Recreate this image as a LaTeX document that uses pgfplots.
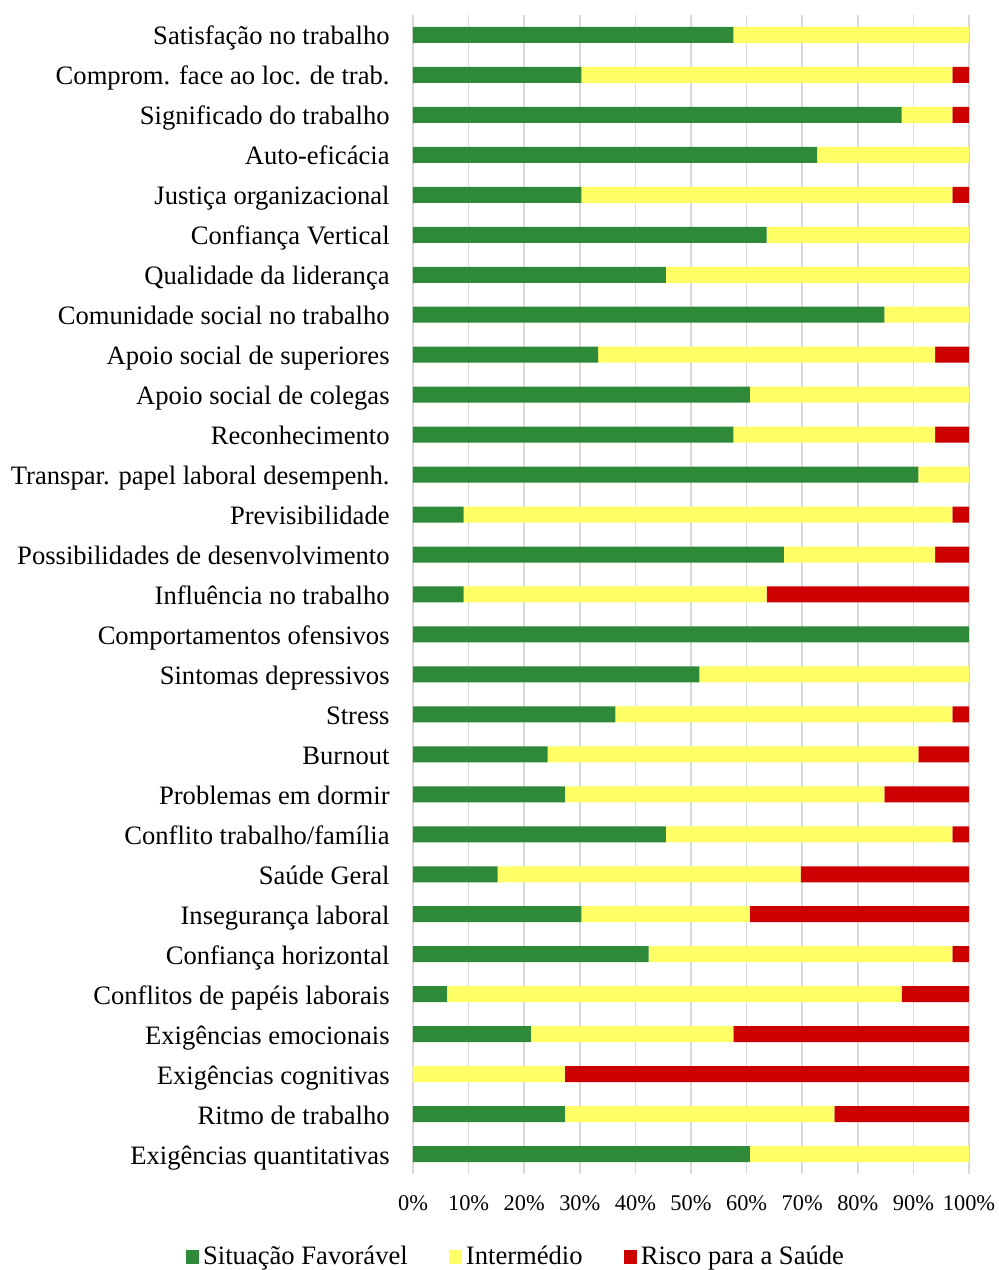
\documentclass[border=0pt]{standalone}
\usepackage{fontspec}
\setmainfont{Liberation Serif}
\usepackage{pgfplots}
\usepackage{pgfplotstable}
\pgfplotsset{compat=1.18}
\definecolor{cg}{RGB}{46,137,56}
\definecolor{cy}{RGB}{255,255,102}
\definecolor{cr}{RGB}{204,0,0}
\definecolor{cgrid}{RGB}{217,217,217}

\pgfplotstableread{
idx fav int ris
0 60.6 39.4 0
1 27.3 48.5 24.2
2 0 27.3 72.7
3 21.2 36.4 42.4
4 6.1 81.8 12.1
5 42.4 54.6 3.0
6 30.3 30.3 39.4
7 15.2 54.5 30.3
8 45.5 51.5 3.0
9 27.3 57.5 15.2
10 24.2 66.7 9.1
11 36.4 60.6 3.0
12 51.5 48.5 0
13 100 0 0
14 9.1 54.5 36.4
15 66.7 27.2 6.1
16 9.1 87.9 3.0
17 90.9 9.1 0
18 57.6 36.3 6.1
19 60.6 39.4 0
20 33.3 60.6 6.1
21 84.8 15.2 0
22 45.5 54.5 0
23 63.6 36.4 0
24 30.3 66.7 3.0
25 72.7 27.3 0
26 87.9 9.1 3.0
27 30.3 66.7 3.0
28 57.6 42.4 0
}\datatable

\begin{document}
\begin{tikzpicture}
\path[use as bounding box] (-206.5pt,-48pt) rectangle (293pt,587pt);
\begin{axis}[
  scale only axis,
  width=278pt, height=579.5pt,
  xbar stacked,
  bar width=8pt,
  xmin=0, xmax=100,
  ymin=-0.5, ymax=28.5,
  xtick={0,10,...,100},
  xticklabels={0\%,10\%,20\%,30\%,40\%,50\%,60\%,70\%,80\%,90\%,100\%},
  ytick={0,...,28},
  yticklabels={Exigências quantitativas,Ritmo de trabalho,Exigências cognitivas,Exigências emocionais,Conflitos de papéis laborais,Confiança horizontal,Insegurança laboral,Saúde Geral,Conflito trabalho/família,Problemas em dormir,Burnout,Stress,Sintomas depressivos,Comportamentos ofensivos,Influência no trabalho,Possibilidades de desenvolvimento,Previsibilidade,Transpar. papel laboral desempenh.,Reconhecimento,Apoio social de colegas,Apoio social de superiores,Comunidade social no trabalho,Qualidade da liderança,Confiança Vertical,Justiça organizacional,Auto-eficácia,Significado do trabalho,Comprom. face ao loc. de trab.,Satisfação no trabalho},
  xmajorgrids,
  grid style={draw=cgrid, line width=0.75pt},
  axis line style={draw=none},
  tick style={draw=none},
  major tick length=0pt,
  yticklabel style={font=\fontsize{13.3}{16}\selectfont, inner sep=0pt, anchor=base east, xshift=-11.5pt, yshift=-5pt},
  xticklabel style={font=\fontsize{11.2}{13}\selectfont, inner sep=0pt, anchor=base, yshift=-18.25pt},
  legend columns=3,
  legend style={at={(0.187,-0.0716)}, anchor=center, draw=none, fill=none,
    font=\fontsize{13.3}{15}\selectfont,
    /tikz/every even column/.append style={column sep=18.5pt},
    nodes={inner sep=2pt}},
  legend image code/.code={\path[#1,draw=none] (0pt,-3.4pt) rectangle (6.6pt,3.4pt);},
]
\addplot[fill=cg, draw=none] table[x=fav, y=idx] {\datatable};
\addplot[fill=cy, draw=none] table[x=int, y=idx] {\datatable};
\addplot[fill=cr, draw=none] table[x=ris, y=idx] {\datatable};
\legend{Situação Favorável,Intermédio,Risco para a Saúde}
\end{axis}
\end{tikzpicture}
\end{document}
